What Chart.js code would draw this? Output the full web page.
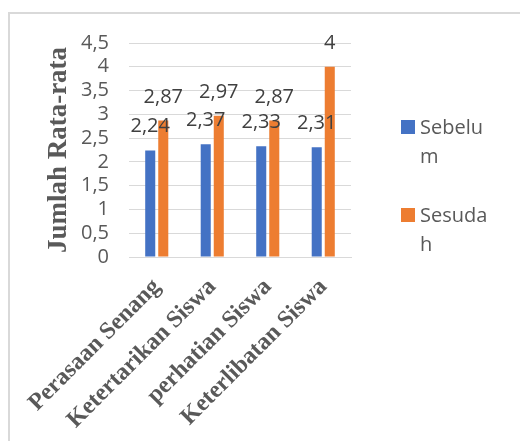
<!DOCTYPE html>
<html lang="id">
<head>
  <meta charset="UTF-8" />
  <title>Jumlah Rata-rata</title>
  <script src="https://cdn.jsdelivr.net/npm/chart.js"></script>
  <style>
    html, body {
      margin: 0;
      padding: 0;
      background: #ffffff;
    }
    #wrap {
      width: 520px;
      height: 441px;
    }
  </style>
</head>
<body>
  <div id="wrap"><canvas id="chart" width="520" height="441"></canvas></div>

  <script>
    const categories = ["Perasaan Senang", "Ketertarikan Siswa", "perhatian Siswa", "Keterlibatan Siswa"];
    const seriesNames = ["Sebelum", "Sesudah"];
    const sebelum = [2.24, 2.37, 2.33, 2.31];
    const sesudah = [2.87, 2.97, 2.87, 4];
    const colors = ["#4472C4", "#ED7D31"];
    const yMax = 4.5;
    const yStep = 0.5;

    const textGrey = "#595959";
    const sansFont = "'Open Sans', 'Noto Sans', sans-serif";
    const serifFont = "'Liberation Serif', 'Times New Roman', serif";

    const fmt = v => String(v).replace(".", ",");

    // border of the chart box (only top and left show in the picture)
    const frame = {
      id: "frame",
      beforeDraw(chart) {
        const c = chart.ctx;
        c.save();
        c.fillStyle = "#ffffff";
        c.fillRect(0, 0, chart.width, chart.height);
        c.strokeStyle = "#d9d9d9";
        c.lineWidth = 2;
        c.beginPath();
        c.moveTo(9, chart.height);
        c.lineTo(9, 13);
        c.lineTo(chart.width, 13);
        c.stroke();
        c.restore();
      }
    };

    // value labels above each bar, drawn over the bars
    const valueLabels = {
      id: "valueLabels",
      afterDatasetsDraw(chart) {
        const c = chart.ctx;
        c.save();
        c.font = "20px " + sansFont;
        c.fillStyle = "#404040";
        c.textAlign = "center";
        c.textBaseline = "alphabetic";
        chart.data.datasets.forEach((ds, i) => {
          chart.getDatasetMeta(i).data.forEach((bar, j) => {
            c.fillText(fmt(ds.data[j]), bar.x, bar.y - 18);
          });
        });
        c.restore();
      }
    };

    function wrapText(c, text, maxW) {
      const lines = [];
      let cur = "";
      for (const ch of text) {
        if (cur && c.measureText(cur + ch).width > maxW) {
          lines.push(cur);
          cur = ch;
        } else {
          cur += ch;
        }
      }
      if (cur) lines.push(cur);
      return lines;
    }

    const sideLegend = {
      id: "sideLegend",
      afterDraw(chart) {
        const c = chart.ctx;
        c.save();
        c.font = "20px " + sansFont;
        c.textBaseline = "alphabetic";
        c.textAlign = "left";
        chart.data.datasets.forEach((ds, i) => {
          const top = 120 + i * 88;
          c.fillStyle = ds.backgroundColor;
          c.fillRect(401, top, 14, 14);
          c.fillStyle = textGrey;
          wrapText(c, ds.label, 68).forEach((line, k) => {
            c.fillText(line, 420, top + 14 + k * 29);
          });
        });
        c.restore();
      }
    };

    new Chart(document.getElementById("chart"), {
      type: "bar",
      data: {
        labels: categories,
        datasets: [
          { label: seriesNames[0], data: sebelum, backgroundColor: colors[0] },
          { label: seriesNames[1], data: sesudah, backgroundColor: colors[1] }
        ]
      },
      options: {
        responsive: false,
        animation: false,
        categoryPercentage: 0.47,
        barPercentage: 0.77,
        layout: { padding: { left: 0, top: 43, right: 169, bottom: 0 } },
        plugins: {
          legend: { display: false },
          tooltip: { enabled: false }
        },
        scales: {
          x: {
            grid: { display: false },
            border: { color: "#d9d9d9", width: 1 },
            ticks: {
              minRotation: 45,
              maxRotation: 45,
              autoSkip: false,
              padding: 8,
              color: textGrey,
              font: { family: serifFont, size: 24, weight: "bold" }
            },
            afterFit(scale) { scale.height = 184; }
          },
          y: {
            min: 0,
            max: yMax,
            border: { display: false },
            grid: { color: "#d9d9d9", lineWidth: 1, drawTicks: false },
            ticks: {
              stepSize: yStep,
              autoSkip: false,
              padding: 20,
              color: textGrey,
              font: { family: sansFont, size: 20 },
              callback: v => fmt(v)
            },
            title: {
              display: true,
              text: "Jumlah Rata-rata",
              color: textGrey,
              padding: { top: 43, bottom: 0 },
              font: { family: serifFont, size: 27, weight: "bold" }
            },
            afterFit(scale) { scale.width = 129; }
          }
        }
      },
      plugins: [frame, valueLabels, sideLegend]
    });
  </script>
</body>
</html>
